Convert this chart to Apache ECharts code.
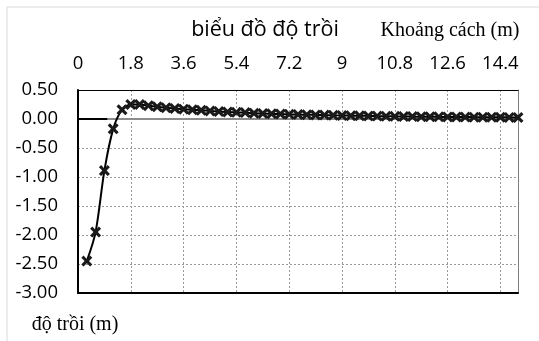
<!DOCTYPE html>
<html><head><meta charset="utf-8">
<script src="https://cdn.jsdelivr.net/npm/echarts@6/dist/echarts.min.js"></script>
<style>html,body{margin:0;padding:0;background:#fff}#c{width:539px;height:341px}</style>
</head><body><div id="c"></div>
<script>
// Distance (m) and heave (m)
const distance = [0.3,0.6,0.9,1.2,1.5,1.8,2.1,2.4,2.7,3.0,3.3,3.6,3.9,4.2,4.5,4.8,5.1,5.4,5.7,6.0,
  6.3,6.6,6.9,7.2,7.5,7.8,8.1,8.4,8.7,9.0,9.3,9.6,9.9,10.2,10.5,10.8,11.1,11.4,11.7,12.0,
  12.3,12.6,12.9,13.2,13.5,13.8,14.1,14.4,14.7,15.0];
const heave = [-2.45,-1.95,-0.89,-0.17,0.16,0.25,0.25,0.23,0.21,0.195,0.18,0.17,0.16,0.15,0.14,0.13,0.12,0.115,0.11,0.10,
  0.095,0.09,0.085,0.08,0.077,0.073,0.07,0.067,0.064,0.061,0.058,0.055,0.053,0.05,0.048,0.046,0.044,0.042,0.04,0.039,
  0.037,0.036,0.034,0.033,0.032,0.031,0.03,0.029,0.028,0.027];
const zeroBlack = [[0,0],[1.0,0]];
const zeroGray = [[1.0,0],[15,0]];
const xTicks = {min:0, max:15, interval:1.8};
const yTicks = {min:-3, max:0.5, interval:0.5};
const titleText = 'biểu đồ độ trồi';
const xName = 'Khoảng cách (m)';
const yName = 'độ trồi (m)';

const chart = echarts.init(document.getElementById('c'), null, {renderer:'canvas'});
const sans = '"Open Sans", "Noto Sans", sans-serif';
const serif = '"Liberation Serif", "DejaVu Serif", serif';
const xSym = 'path://M0,2 L2,0 L5,3 L8,0 L10,2 L7,5 L10,8 L8,10 L5,7 L2,10 L0,8 L3,5 Z';
chart.setOption({
  animation:false,
  backgroundColor:'#fff',
  grid:{left:78, top:90, right:21, bottom:48, containLabel:false},
  xAxis:[{
    type:'value', position:'top', min:xTicks.min, max:xTicks.max, interval:xTicks.interval,
    axisLine:{show:true, onZero:false, lineStyle:{color:'#000', width:1}},
    axisTick:{show:false},
    axisLabel:{color:'#000', fontFamily:sans, fontSize:18.5, margin:17,
      formatter:v=> (Math.abs(v-xTicks.max)<1e-9 ? '' : String(Math.round(v*10)/10))},
    splitLine:{show:true, lineStyle:{color:'#999', type:[2,2], width:1}}
  },{
    type:'value', position:'bottom', min:xTicks.min, max:xTicks.max,
    axisLine:{show:true, onZero:false, lineStyle:{color:'#000', width:2}},
    axisTick:{show:false}, axisLabel:{show:false}, splitLine:{show:false}
  }],
  yAxis:[{
    type:'value', min:yTicks.min, max:yTicks.max, interval:yTicks.interval,
    axisLine:{show:true, onZero:false, lineStyle:{color:'#000', width:2}},
    axisTick:{show:false},
    axisLabel:{color:'#000', fontFamily:sans, fontSize:18.5, margin:20, formatter:v=>v.toFixed(2)},
    splitLine:{show:true, lineStyle:{color:'#999', type:[2,2], width:1}}
  },{
    type:'value', position:'right', min:yTicks.min, max:yTicks.max,
    axisLine:{show:true, onZero:false, lineStyle:{color:'#7f7f7f', width:1}},
    axisTick:{show:false}, axisLabel:{show:false}, splitLine:{show:false}
  }],
  series:[
    {type:'line', data:zeroGray, symbol:'none', lineStyle:{color:'#8c8c8c', width:2}, silent:true, z:1},
    {type:'line', data:zeroBlack, symbol:'none', lineStyle:{color:'#000', width:2}, silent:true, z:1},
    {type:'line', data:distance.map((d,i)=>[d,heave[i]]), smooth:0.3,
      symbol:xSym, symbolSize:11, showAllSymbol:true,
      itemStyle:{color:'#1a1a1a'}, lineStyle:{color:'#000', width:2}, z:3}
  ],
  graphic:[
    {type:'rect', shape:{x:7,y:7,width:560,height:360}, style:{fill:'none', stroke:'#d9d9d9', lineWidth:1}, silent:true},
    {type:'text', x:265, y:30, style:{text:titleText, font:'21.5px '+sans, fill:'#000', textAlign:'center', textVerticalAlign:'middle'}},
    {type:'text', x:450, y:31, style:{text:xName, font:'20px '+serif, fill:'#000', textAlign:'center', textVerticalAlign:'middle'}},
    {type:'text', x:75, y:325, style:{text:yName, font:'20px '+serif, fill:'#000', textAlign:'center', textVerticalAlign:'middle'}}
  ]
});
</script></body></html>
